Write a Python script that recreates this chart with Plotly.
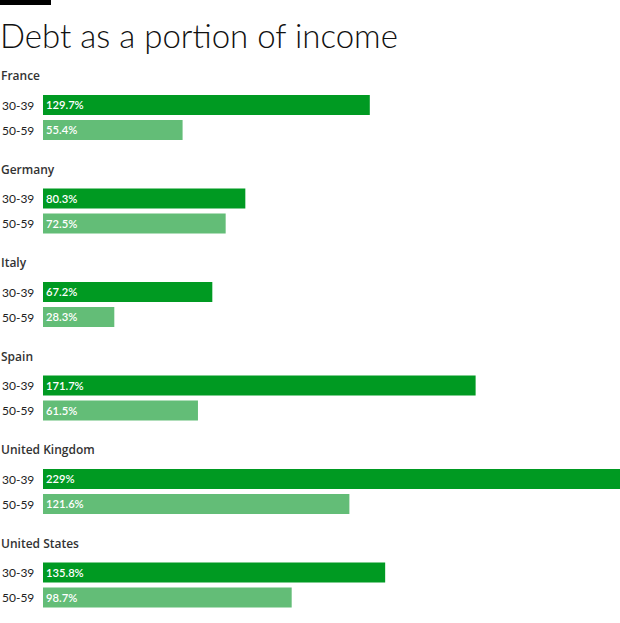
import plotly.graph_objects as go

countries = ["France", "Germany", "Italy", "Spain", "United Kingdom", "United States"]
ages = ["30-39", "50-59"]
debt_30_39 = [129.7, 80.3, 67.2, 171.7, 229, 135.8]
debt_50_59 = [55.4, 72.5, 28.3, 61.5, 121.6, 98.7]

DARK = "#009a22"
LIGHT = "#63bd77"
FONT = "Lato"

# one row = 25px, a country block is ~3.74 rows tall
STEP = 3.74
y_young = [i * STEP for i in range(len(countries))]
y_old = [i * STEP + 1 for i in range(len(countries))]


def fmt(v):
    return f"{v:g}%"


fig = go.Figure()
for ys, vals, col in [(y_young, debt_30_39, DARK), (y_old, debt_50_59, LIGHT)]:
    fig.add_trace(go.Bar(
        x=vals, y=ys, orientation="h", width=0.8,
        marker=dict(color=col, line=dict(width=0)),
        text=[fmt(v) for v in vals],
        textposition="inside", insidetextanchor="start",
        textfont=dict(family=FONT, size=12, color="white", weight=600),
        hoverinfo="skip",
    ))

annotations = []
for i, c in enumerate(countries):
    annotations.append(dict(
        x=0, xref="paper", xanchor="left", xshift=-44,
        y=y_young[i] - 1.17, yref="y", yanchor="middle",
        text=c, showarrow=False,
        font=dict(family="Open Sans", size=12, color="#333333", weight=600),
    ))
    for j, ys in enumerate([y_young, y_old]):
        annotations.append(dict(
            x=0, xref="paper", xanchor="left", xshift=-43,
            y=ys[i], yref="y", yanchor="middle",
            text=ages[j], showarrow=False,
            font=dict(family=FONT, size=12, color="#222222"),
        ))

annotations.append(dict(
    x=0, xref="paper", xanchor="left", xshift=-45,
    y=1.107, yref="paper", yanchor="top", yshift=-13,
    text="Debt as a portion of income", showarrow=False,
    font=dict(family=FONT, size=33, color="#111111", weight=300),
))

fig.update_layout(
    width=620, height=623,
    margin=dict(l=43, r=0, t=60, b=3),
    paper_bgcolor="white", plot_bgcolor="white",
    showlegend=False, barmode="overlay",
    xaxis=dict(range=[0, 229], visible=False, fixedrange=True),
    yaxis=dict(range=[20.6, -1.8], visible=False, fixedrange=True),
    annotations=annotations,
    shapes=[dict(type="rect", xref="paper", yref="paper",
                 x0=-43 / 577, x1=8 / 577, y0=1.107, y1=1.107 - 5 / 560,
                 fillcolor="black", line=dict(width=0))],
)

# drop the browser's default 8px body margin so the chart sits at 0,0
fig.write_html("out.html", config={"displayModeBar": False},
               post_script="document.body.style.margin='0';")
